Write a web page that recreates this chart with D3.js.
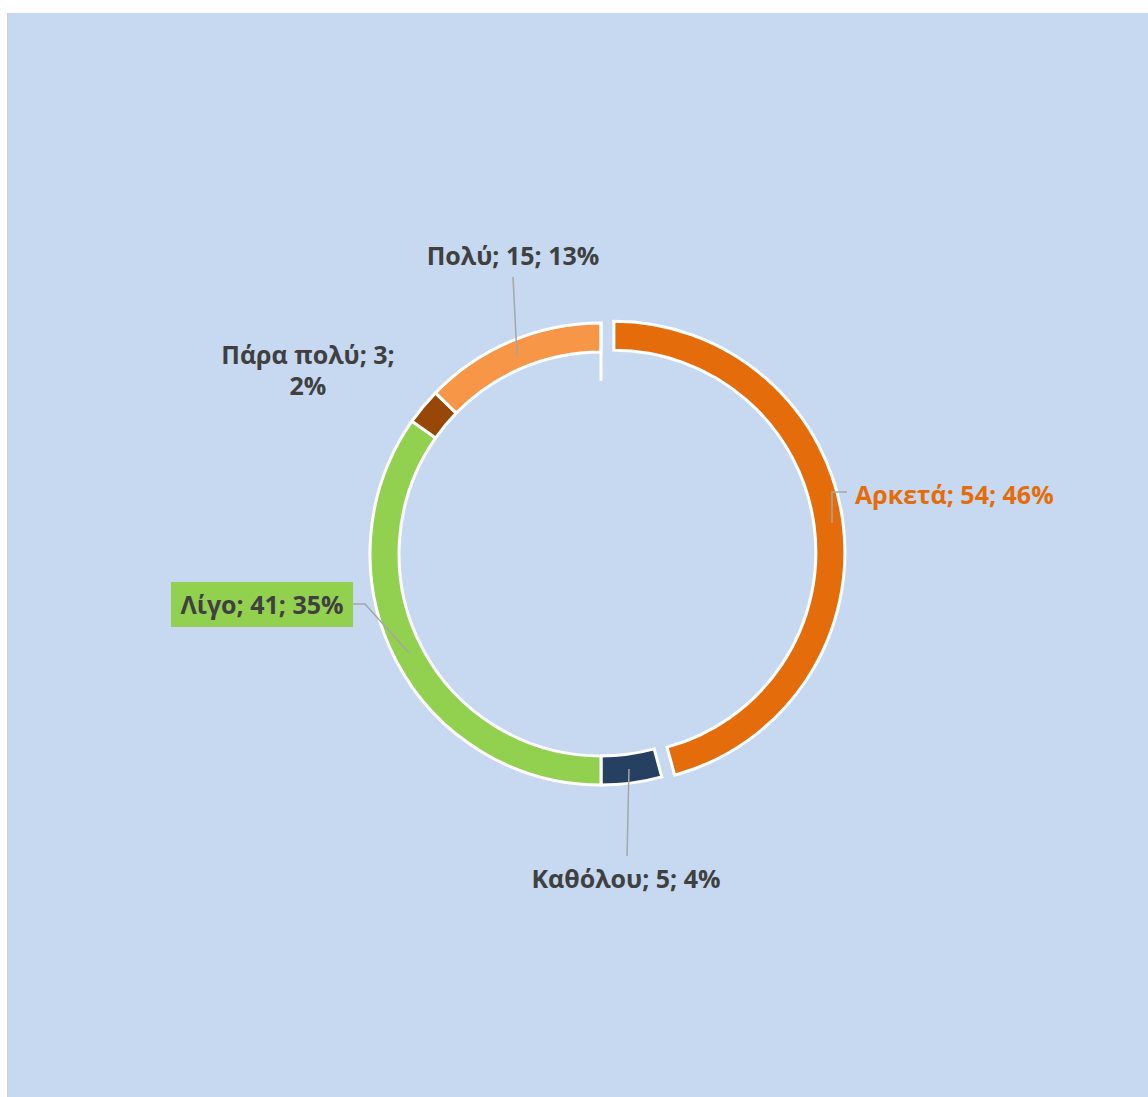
<!DOCTYPE html>
<html><head><meta charset="utf-8">
<script src="https://cdn.jsdelivr.net/npm/d3@7"></script>
<style>body{margin:0;background:#fff;}svg{display:block;}</style>
</head><body>
<script>
const categories = ["Αρκετά", "Καθόλου", "Λίγο", "Πάρα πολύ", "Πολύ"];
const values = [54, 5, 41, 3, 15];
const percents = ["46%", "4%", "35%", "2%", "13%"];
const colors = ["#E46C0A", "#254061", "#92D050", "#974806", "#F79646"];

const W = 1148, H = 1097;
const svg = d3.select("body").append("svg").attr("width", W).attr("height", H);
svg.append("rect").attr("x", 7).attr("y", 13).attr("width", W - 7).attr("height", H - 13)
  .attr("fill", "#C6D9F0");
svg.append("line").attr("x1", 7.5).attr("x2", 7.5).attr("y1", 13).attr("y2", H)
  .attr("stroke", "#D0D0D0").attr("stroke-width", 1);

const cx = 601, cy = 554, rOut = 231, rIn = 202;
const data = categories.map((c, i) => ({cat: c, val: values[i], pct: percents[i], color: colors[i]}));
const pie = d3.pie().value(d => d.val).sort(null).startAngle(0).endAngle(2 * Math.PI);
const arcs = pie(data);
const arc = d3.arc().innerRadius(rIn).outerRadius(rOut);
const g = svg.append("g").attr("transform", `translate(${cx},${cy})`);

const explode = [13, 0, 0, 0, 0];
g.selectAll("path").data(arcs).enter().append("path")
  .attr("d", arc)
  .attr("transform", (d, i) => {
    const m = (d.startAngle + d.endAngle) / 2;
    return `translate(${Math.sin(m) * explode[i]},${-Math.cos(m) * explode[i]})`;
  })
  .attr("fill", d => d.data.color)
  .attr("stroke", "#fff").attr("stroke-width", 3).attr("stroke-linejoin", "miter");

// white radial edge at top
g.append("line").attr("x1", 0).attr("x2", 0).attr("y1", -rOut - 1).attr("y2", -173)
  .attr("stroke", "#fff").attr("stroke-width", 3);

const font = "'Open Sans', 'Noto Sans', sans-serif";
const fs = 25;
const leader = "#A6A6A6";

function label(i, x, y, color, anchor) {
  return svg.append("text").attr("x", x).attr("y", y).attr("text-anchor", anchor || "middle")
    .attr("font-family", font).attr("font-weight", "bold").attr("font-size", fs)
    .attr("fill", color).text(`${categories[i]}; ${values[i]}; ${percents[i]}`);
}

// Αρκετά
svg.append("polyline").attr("points", "832,523 832,492 847,492").attr("fill", "none")
  .attr("stroke", leader).attr("stroke-width", 1.5);
label(0, 855, 504, "#E46C0A", "start");

// Καθόλου
svg.append("line").attr("x1", 629).attr("y1", 769).attr("x2", 627).attr("y2", 856)
  .attr("stroke", leader).attr("stroke-width", 1.5);
label(1, 626, 888, "#404040");

// Λίγο
svg.append("rect").attr("x", 171).attr("y", 582).attr("width", 182).attr("height", 45).attr("fill", "#92D050");
svg.append("polyline").attr("points", "353,604 365,604 409,653").attr("fill", "none")
  .attr("stroke", leader).attr("stroke-width", 1.5);
label(2, 262, 614, "#404040");

// Πάρα πολύ (two lines)
const t3 = svg.append("text").attr("text-anchor", "middle")
  .attr("font-family", font).attr("font-weight", "bold").attr("font-size", fs).attr("fill", "#404040");
t3.append("tspan").attr("x", 308).attr("y", 364).text(`${categories[3]}; ${values[3]};`);
t3.append("tspan").attr("x", 308).attr("y", 395).text(percents[3]);

// Πολύ
svg.append("line").attr("x1", 513).attr("y1", 277).attr("x2", 517).attr("y2", 356)
  .attr("stroke", leader).attr("stroke-width", 1.5);
label(4, 513, 265, "#404040");
</script>
</body></html>
